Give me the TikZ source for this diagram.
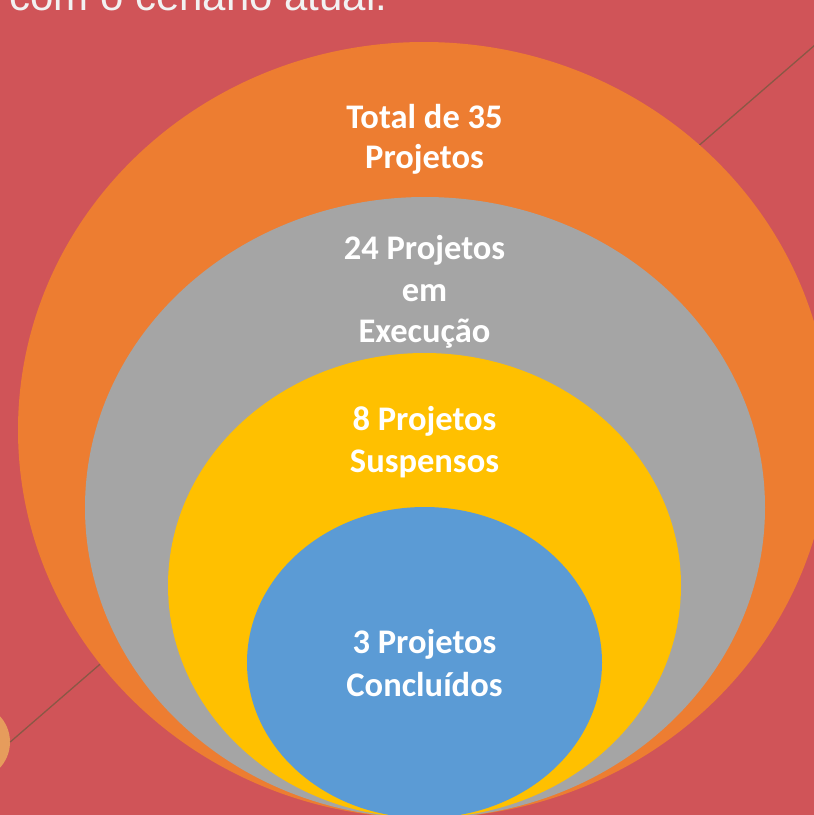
\documentclass[tikz,border=0pt]{standalone}
\usepackage{fontspec}
\setmainfont{Liberation Sans}
\newfontfamily\lblfont{Carlito}
\definecolor{bgred}{HTML}{D05458}
\definecolor{ringorange}{HTML}{ED7D31}
\definecolor{ringgray}{HTML}{A5A5A5}
\definecolor{ringyellow}{HTML}{FFC000}
\definecolor{ringblue}{HTML}{5B9BD5}
\definecolor{dotorange}{HTML}{E69C5C}
\definecolor{linebrown}{HTML}{8A5845}
\definecolor{toptext}{HTML}{F2F2F2}
\tikzset{
  ring/.style={draw=none},
  lbl/.style={anchor=base, inner sep=0pt, text=white, font=\lblfont\bfseries\fontsize{34.5}{41}\selectfont},
  toplbl/.style={anchor=base west, inner sep=0pt, text=toptext, font=\fontsize{42}{50}\selectfont}
}
\begin{document}
\begin{tikzpicture}[x=1pt,y=-1pt]
\useasboundingbox (0,0) rectangle (814,815);
\clip (0,0) rectangle (814,815);
\fill[bgred] (0,0) rectangle (814,815);
% decorative dot and line
\node[circle, fill=dotorange, minimum size=76pt, inner sep=0pt] (dot) at (-28,742) {};
\coordinate (lineend) at (860,6);
\draw[linebrown, line width=1.3pt] (dot.east) -- (lineend);
% nested ellipses
\fill[ringorange] (424,430) ellipse [x radius=406, y radius=388];
\fill[ringgray] (425,507.5) ellipse [x radius=340, y radius=310.5];
\fill[ringyellow] (424.5,585.5) ellipse [x radius=256.5, y radius=232.5];
\fill[ringblue] (424.5,662.5) ellipse [x radius=177.5, y radius=155.5];
% top text
\node[toplbl] (top) at (9,10) {com o cenário atual.};
% labels
\node[lbl] (o1) at (424.5,128) {Total de 35};
\node[lbl] (o2) at (424.5,168) {Projetos};
\node[lbl] (g1) at (424.5,259) {24 Projetos};
\node[lbl] (g2) at (424.5,301) {em};
\node[lbl] (g3) at (424.5,342) {Execução};
\node[lbl] (y1) at (424.5,430) {8 Projetos};
\node[lbl] (y2) at (424.5,472) {Suspensos};
\node[lbl] (b1) at (424.5,653) {3 Projetos};
\node[lbl] (b2) at (424.5,696) {Concluídos};
\end{tikzpicture}
\end{document}
